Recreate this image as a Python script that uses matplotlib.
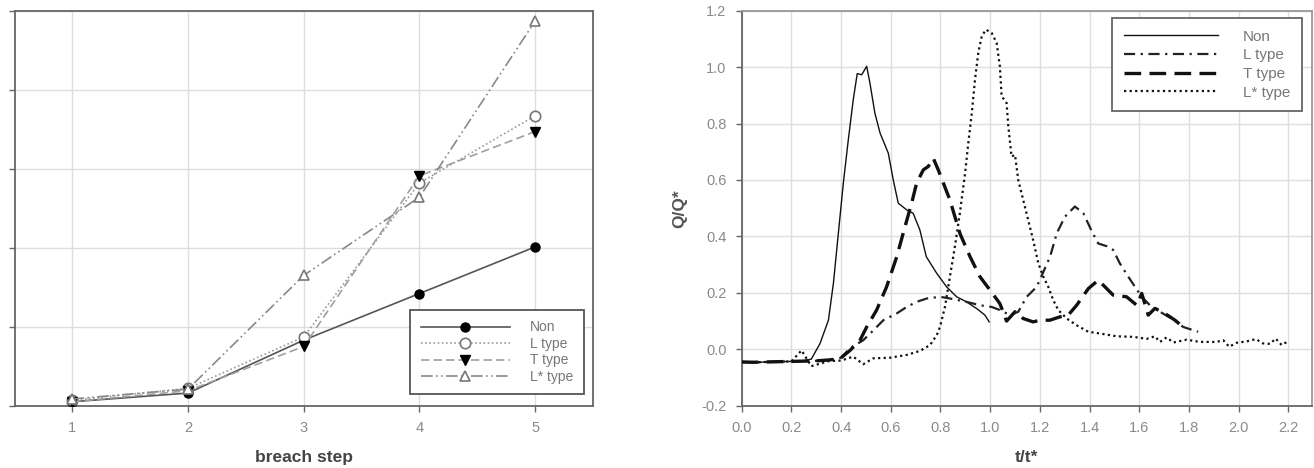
import matplotlib
matplotlib.use("Agg")
import matplotlib.pyplot as plt

plt.rcParams['font.family'] = ['Liberation Sans', 'DejaVu Sans']

# ---------------- left chart data ----------------
steps = [1, 2, 3, 4, 5]
left_labels = ["Non", "L type", "T type", "L* type"]
left_non = [0.05, 0.16, 0.83, 1.42, 2.01]
left_l = [0.07, 0.22, 0.87, 2.82, 3.67]
left_t = [0.05, 0.19, 0.75, 2.91, 3.47]
left_ls = [0.085, 0.21, 1.65, 2.64, 4.87]

# ---------------- right chart data ----------------
right_labels = ["Non", "L type", "T type", "L* type"]
non_x = [0.0, 0.05, 0.10, 0.15, 0.20, 0.25, 0.28, 0.315, 0.349, 0.369, 0.389, 0.409, 0.429, 0.449,
         0.465, 0.483, 0.503, 0.516, 0.536, 0.557, 0.59, 0.61, 0.63, 0.664, 0.69, 0.717, 0.743,
         0.785, 0.825, 0.865, 0.905, 0.946, 0.979, 0.996]
non_y = [-0.045, -0.047, -0.045, -0.044, -0.043, -0.040, -0.035, 0.02, 0.103, 0.233, 0.411, 0.589,
         0.742, 0.885, 0.977, 0.973, 1.003, 0.944, 0.837, 0.766, 0.695, 0.60, 0.518, 0.494, 0.482,
         0.423, 0.328, 0.269, 0.221, 0.186, 0.168, 0.144, 0.121, 0.097]

l_x = [0.0, 0.05, 0.10, 0.15, 0.20, 0.25, 0.30, 0.35, 0.40, 0.436, 0.489, 0.53, 0.57, 0.624, 0.664,
       0.704, 0.745, 0.798, 0.838, 0.905, 0.959, 1.006, 1.039, 1.08, 1.113, 1.147, 1.187, 1.214,
       1.241, 1.268, 1.301, 1.341, 1.375, 1.408, 1.435, 1.47, 1.495, 1.522, 1.556, 1.583, 1.61,
       1.643, 1.683, 1.73, 1.777, 1.837]
l_y = [-0.045, -0.046, -0.045, -0.044, -0.043, -0.042, -0.041, -0.038, -0.03, 0.004, 0.032, 0.067,
       0.103, 0.127, 0.15, 0.168, 0.18, 0.186, 0.18, 0.168, 0.156, 0.15, 0.139, 0.121, 0.133, 0.186,
       0.221, 0.274, 0.328, 0.411, 0.47, 0.506, 0.482, 0.42, 0.375, 0.365, 0.352, 0.304, 0.257,
       0.221, 0.186, 0.156, 0.133, 0.109, 0.079, 0.062]

t_x = [0.0, 0.05, 0.10, 0.15, 0.20, 0.25, 0.30, 0.35, 0.396, 0.436, 0.476, 0.503, 0.543, 0.583,
       0.624, 0.657, 0.684, 0.704, 0.731, 0.751, 0.771, 0.791, 0.838, 0.878, 0.919, 0.959, 0.999,
       1.039, 1.066, 1.1, 1.133, 1.173, 1.2, 1.24, 1.281, 1.314, 1.348, 1.395, 1.435, 1.469, 1.495,
       1.549, 1.59, 1.61, 1.636, 1.663, 1.703, 1.744, 1.784]
t_y = [-0.045, -0.046, -0.045, -0.044, -0.043, -0.042, -0.041, -0.038, -0.033, -0.004, 0.032,
       0.079, 0.139, 0.221, 0.328, 0.434, 0.518, 0.589, 0.636, 0.648, 0.677, 0.636, 0.529, 0.411,
       0.328, 0.257, 0.21, 0.162, 0.10, 0.133, 0.109, 0.097, 0.103, 0.103, 0.115, 0.121, 0.156,
       0.215, 0.245, 0.215, 0.192, 0.186, 0.156, 0.198, 0.121, 0.145, 0.127, 0.103, 0.073]

ls_x = [0.0, 0.05, 0.10, 0.15, 0.20, 0.241, 0.28, 0.35, 0.40, 0.449, 0.489, 0.53, 0.597, 0.664,
        0.717, 0.758, 0.785, 0.798, 0.818, 0.838, 0.858, 0.878, 0.899, 0.912, 0.926, 0.939, 0.952,
        0.966, 0.983, 1.006, 1.026, 1.039, 1.046, 1.066, 1.073, 1.086, 1.1, 1.113, 1.133, 1.153,
        1.173, 1.194, 1.214, 1.234, 1.254, 1.274, 1.308, 1.348, 1.395, 1.442, 1.509, 1.576, 1.63,
        1.663, 1.683, 1.71, 1.737, 1.791, 1.844, 1.911, 1.938, 1.962, 1.992, 2.032, 2.07, 2.097,
        2.126, 2.149, 2.173, 2.2]
ls_y = [-0.045, -0.046, -0.045, -0.044, -0.043, -0.004, -0.06, -0.042, -0.04, -0.026, -0.053,
        -0.032, -0.03, -0.02, -0.006, 0.015, 0.05, 0.079, 0.15, 0.257, 0.364, 0.482, 0.624, 0.731,
        0.837, 0.956, 1.05, 1.109, 1.133, 1.121, 1.086, 1.003, 0.897, 0.873, 0.79, 0.683, 0.689,
        0.6, 0.529, 0.458, 0.387, 0.304, 0.257, 0.221, 0.174, 0.139, 0.109, 0.085, 0.062, 0.056,
        0.046, 0.044, 0.037, 0.046, 0.026, 0.042, 0.024, 0.034, 0.026, 0.026, 0.032, 0.009, 0.023,
        0.028, 0.036, 0.021, 0.019, 0.038, 0.015, 0.029]

right_xticks = [0.0, 0.2, 0.4, 0.6, 0.8, 1.0, 1.2, 1.4, 1.6, 1.8, 2.0, 2.2]
right_yticks = [-0.2, 0.0, 0.2, 0.4, 0.6, 0.8, 1.0, 1.2]

W, H = 1314, 468
fig = plt.figure(figsize=(W / 100, H / 100), dpi=100)

tick_col = '#8a8a8a'
grid_col = '#dedede'
spine_col = '#666666'

ax1 = fig.add_axes([14.5 / W, (H - 405.7) / H, (593 - 14.5) / W, (405.7 - 10.7) / H])
ax2 = fig.add_axes([741.7 / W, (H - 405.7) / H, (1311.7 - 741.7) / W, (405.7 - 10.7) / H])

for ax in (ax1, ax2):
    ax.grid(True, color=grid_col, linewidth=1.0, zorder=0)
    ax.set_axisbelow(True)
    for s in ax.spines.values():
        s.set_color(spine_col)
        s.set_linewidth(1.3)
    ax.tick_params(direction='out', length=4, width=1.0, color=spine_col,
                   labelcolor=tick_col, labelsize=10.5, pad=7)

# ---- left chart ----
ax1.plot(steps, left_non, color='#555555', lw=1.2, marker='o', ms=6.5,
         mfc='black', mec='black', label=left_labels[0], zorder=3)
ax1.plot(steps, left_l, color='#9a9a9a', lw=1.2, ls=(0, (1, 1.5)), marker='o', ms=7.5,
         mfc='white', mec='#777777', mew=1.2, label=left_labels[1], zorder=3)
ax1.plot(steps, left_t, color='#a0a0a0', lw=1.2, ls=(0, (5, 2.5)), marker='v', ms=7.5,
         mfc='black', mec='black', label=left_labels[2], zorder=3)
ax1.plot(steps, left_ls, color='#888888', lw=1.2, ls=(0, (7, 2, 1, 2, 1, 2)), marker='^', ms=7.5,
         mfc='white', mec='#777777', mew=1.2, label=left_labels[3], zorder=3)
ax1.set_xlim(0.5, 5.5)
ax1.set_ylim(0, 5)
ax1.set_xticks(steps)
ax1.set_yticks([0, 1, 2, 3, 4, 5])
ax1.set_yticklabels([])
ax1.set_xlabel("breach step", fontsize=12.5, fontweight='bold', color='#444444', labelpad=11)
leg1 = ax1.legend(loc='upper right', bbox_to_anchor=(584 / W, 1 - 310 / H),
                  bbox_transform=fig.transFigure, borderaxespad=0, fontsize=10,
                  handlelength=6.4, handletextpad=1.5, labelspacing=0.18, borderpad=0.75,
                  fancybox=False, framealpha=1, edgecolor='#555555', numpoints=1)
leg1.get_frame().set_linewidth(1.3)
for t in leg1.get_texts():
    t.set_color('#777777')

# ---- right chart ----
ax2.plot(non_x, non_y, color='#111111', lw=1.0, label=right_labels[0], zorder=3)
ax2.plot(l_x, l_y, color='#222222', lw=1.6, ls=(0, (5, 2.5, 1, 2.5)), label=right_labels[1], zorder=3)
ax2.plot(t_x, t_y, color='#111111', lw=2.4, ls=(0, (5, 2.5)), label=right_labels[2], zorder=3)
ax2.plot(ls_x, ls_y, color='#111111', lw=1.6, ls=(0, (1, 1.5)), label=right_labels[3], zorder=3)
ax2.set_xlim(0, 2.294)
ax2.set_ylim(-0.2, 1.2)
ax2.set_xticks(right_xticks)
ax2.set_yticks(right_yticks)
ax2.set_xticklabels([f"{v:.1f}" for v in right_xticks])
ax2.set_yticklabels([f"{v:.1f}" for v in right_yticks])
ax2.spines['top'].set_color('#999999')
ax2.spines['right'].set_color('#999999')
ax2.set_xlabel("t/t*", fontsize=12.5, fontweight='bold', color='#444444', labelpad=11)
ax2.set_ylabel("Q/Q*", fontsize=12.5, fontweight='bold', color='#555555', labelpad=10)
leg2 = ax2.legend(loc='upper right', bbox_to_anchor=(1301.7 / W, 1 - 18.3 / H),
                  bbox_transform=fig.transFigure, borderaxespad=0, fontsize=11,
                  handlelength=6.2, handletextpad=1.6, labelspacing=0.3, borderpad=0.75,
                  fancybox=False, framealpha=1, edgecolor='#666666')
leg2.get_frame().set_linewidth(1.3)
for t in leg2.get_texts():
    t.set_color('#777777')

fig.savefig("out.png", dpi=100)
